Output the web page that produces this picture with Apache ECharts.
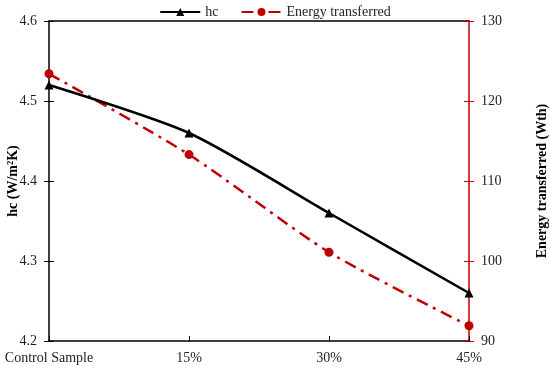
<!DOCTYPE html>
<html><head><meta charset="utf-8">
<script src="https://cdn.jsdelivr.net/npm/echarts@6/dist/echarts.min.js"></script>
<style>html,body{margin:0;padding:0;background:#fff}#c{width:550px;height:375px}</style>
</head><body><div id="c"></div>
<script>
const categories = ['Control Sample', '15%', '30%', '45%'];
const hcValues = [4.52, 4.46, 4.36, 4.26];
const energyValues = [123.4, 113.3, 101.1, 91.9];
const leftTicks = [4.2, 4.3, 4.4, 4.5, 4.6];
const rightTicks = [90, 100, 110, 120, 130];

const FONT = '"Liberation Serif", "DejaVu Serif", serif';
const RED = '#C00000';
const chart = echarts.init(document.getElementById('c'));
const lbl = {fontFamily: FONT, fontSize: 14, color: '#222'};
chart.setOption({
  animation: false,
  textStyle: {fontFamily: FONT},
  legend: {
    top: 0, left: 'center', itemGap: 22, itemWidth: 40, itemHeight: 10,
    textStyle: {fontFamily: FONT, fontSize: 14, color: '#222'},
    data: [{name: 'hc'}, {name: 'Energy transferred'}]
  },
  grid: {left: 49, right: 81, top: 21, bottom: 34, containLabel: false, outerBoundsMode: 'none'},
  xAxis: [{
    type: 'category', data: categories, boundaryGap: false,
    axisLine: {lineStyle: {color: '#000', width: 1.5}},
    axisTick: {inside: true, length: 5, lineStyle: {color: '#000'}},
    axisLabel: Object.assign({margin: 10}, lbl),
    splitLine: {show: false}
  }, {
    type: 'category', data: categories, boundaryGap: false, position: 'top',
    axisLine: {lineStyle: {color: '#000', width: 1.5}},
    axisTick: {show: false}, axisLabel: {show: false}
  }],
  yAxis: [{
    type: 'value', min: 4.2, max: 4.6, interval: 0.1, position: 'left',
    name: 'hc (W/m²K)', nameLocation: 'middle', nameGap: 29, nameMoveOverlap: false,
    nameTextStyle: {fontFamily: FONT, fontSize: 14, fontWeight: 'bold', color: '#000'},
    axisLine: {show: true, lineStyle: {color: '#000', width: 1.5}},
    axisTick: {show: true, length: 5, lineStyle: {color: '#000'}},
    axisLabel: Object.assign({margin: 12, formatter: v => v.toFixed(1)}, lbl),
    splitLine: {show: false}
  }, {
    type: 'value', min: 90, max: 130, interval: 10, position: 'right',
    name: 'Energy transferred (Wth)', nameLocation: 'middle', nameGap: 66, nameRotate: 90, nameMoveOverlap: false,
    nameTextStyle: {fontFamily: FONT, fontSize: 14, fontWeight: 'bold', color: '#000'},
    axisLine: {show: true, lineStyle: {color: RED, width: 1.5}},
    axisTick: {show: true, length: 5, lineStyle: {color: RED}},
    axisLabel: Object.assign({margin: 12}, lbl),
    splitLine: {show: false}
  }, {
    type: 'value', min: 4.2, max: 4.6, interval: 0.1, position: 'left',
    axisLine: {show: false}, axisTick: {show: true, inside: true, length: 5, lineStyle: {color: '#000'}},
    axisLabel: {show: false}, splitLine: {show: false}
  }, {
    type: 'value', min: 90, max: 130, interval: 10, position: 'right',
    axisLine: {show: false}, axisTick: {show: true, inside: true, length: 5, lineStyle: {color: RED}},
    axisLabel: {show: false}, splitLine: {show: false}
  }],
  series: [{
    name: 'hc', type: 'line', data: hcValues, yAxisIndex: 0, smooth: 0.25,
    symbol: 'triangle', symbolSize: 9,
    itemStyle: {color: '#000'}, lineStyle: {color: '#000', width: 2.5}, z: 3
  }, {
    name: 'Energy transferred', type: 'line', data: energyValues, yAxisIndex: 1, smooth: 0.25,
    symbol: 'circle', symbolSize: 9,
    itemStyle: {color: RED}, lineStyle: {color: RED, width: 2.5, type: [12, 6, 3, 6]}, z: 2
  }]
});
</script></body></html>
